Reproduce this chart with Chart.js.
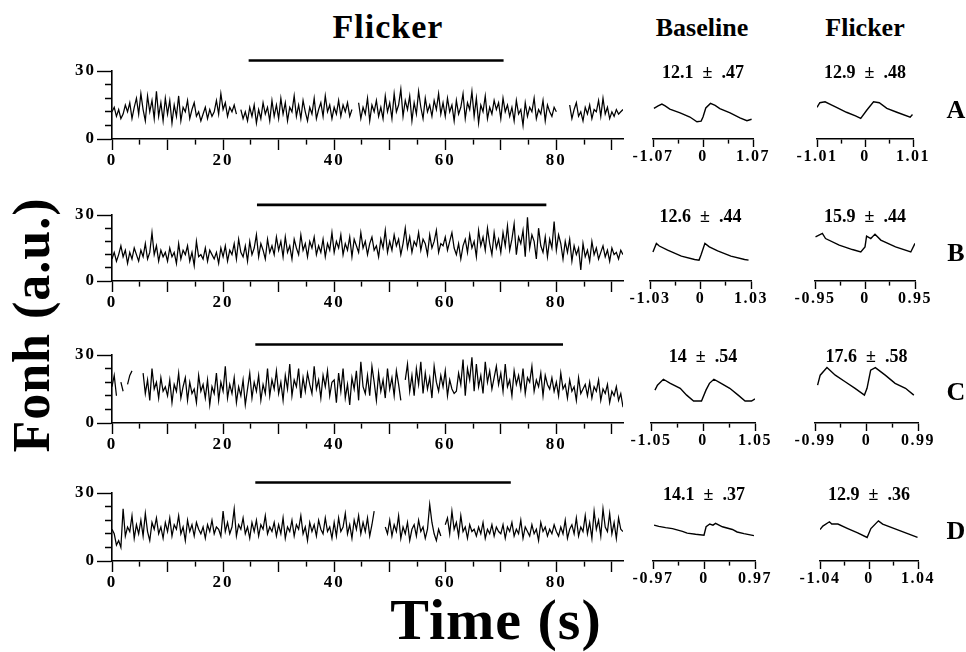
<!DOCTYPE html>
<html>
<head>
<meta charset="utf-8" />
<title>Fonh traces - flicker</title>
<script src="https://cdn.jsdelivr.net/npm/chart.js@4.4.1/dist/chart.umd.min.js"></script>
<style>
    html, body {
        margin: 0;
        padding: 0;
        background: #fff;
        overflow: hidden;
    }
    #fig {
        position: relative;
        width: 966px;
        height: 652px;
        background: #fff;
        color: #000;
        font-family: 'Liberation Serif', 'Times New Roman', serif;
        font-weight: bold;
    }
    #fig canvas { position: absolute; }
    .lbl {
        position: absolute;
        white-space: pre;
        line-height: 1;
        transform: translate(-50%, -50%);
    }
</style>
</head>
<body>
<div id="fig">
    <div class="lbl" style="left:388px; top:27px; font-size:34px; letter-spacing:1px;">Flicker</div>
    <div class="lbl" style="left:702px; top:28px; font-size:26px;">Baseline</div>
    <div class="lbl" style="left:865px; top:28px; font-size:26px;">Flicker</div>
    <div class="lbl" style="left:32px; top:325px; font-size:52px; letter-spacing:1px; transform:translate(-50%,-50%) rotate(-90deg);">Fonh (a.u.)</div>
    <div class="lbl" style="left:496px; top:620px; font-size:58px; letter-spacing:1px;">Time (s)</div>
</div>

<script>
// ---- data ----
const SAMPLE_STEP = 0.4; // s between samples of the long traces

const mainXTicks = [0, 5, 10, 15, 20, 25, 30, 35, 40, 45, 50, 55, 60, 65, 70, 75, 80, 85, 90];
const mainXLabels = [0, 20, 40, 60, 80];
const mainYTicks = [0, 6, 12, 18, 24, 30];
const mainYLabels = [0, 30];

const traceA = [
    12,14,10,13,9,11,15,12,16,9,14,18,11,20,13,8,19,12,17,9,21,10,16,8,18,
    11,17,7,15,10,19,8,14,12,17,9,13,16,10,12,8,11,14,9,13,10,12,17,11,20,
    13,16,10,14,12,15,11,null,13,9,12,8,14,10,15,7,13,9,16,11,14,8,17,10,15,
    9,18,11,16,8,14,12,19,10,15,9,17,12,8,14,11,18,9,13,16,10,19,12,15,9,
    14,11,17,10,15,12,16,10,13,null,null,16,9,14,11,18,8,15,12,17,10,14,9,19,12,
    16,9,20,12,15,22,10,17,13,19,8,16,11,21,14,9,18,12,15,10,17,13,20,11,16,
    10,18,12,15,8,17,11,14,20,9,16,13,21,10,18,7,15,12,19,9,14,11,17,13,16,
    9,18,12,15,10,14,8,17,11,13,6,16,10,14,12,18,9,13,11,17,8,15,12,10,14,
    12,null,null,null,null,null,15,9,13,16,10,12,8,14,11,15,9,13,12,17,10,18,11,14,9,12,10,13,11,12,13
];
const traceB = [
    10,13,9,12,16,11,14,8,13,10,15,12,9,14,11,17,10,13,22,12,16,9,14,11,13,
    9,15,11,13,8,17,10,14,12,16,9,13,7,18,11,12,10,15,9,14,12,10,13,8,15,
    11,16,9,14,12,17,10,19,13,11,16,9,18,12,15,21,11,17,14,10,19,13,16,12,20,
    14,18,11,20,13,16,10,19,15,12,21,14,17,11,18,15,20,12,16,13,19,11,17,14,22,
    13,18,15,21,12,17,14,20,11,19,16,13,22,15,18,12,17,20,14,16,11,19,15,23,13,
    18,14,21,16,19,12,17,24,15,20,13,18,16,22,14,19,17,12,21,15,18,23,13,17,16,
    20,14,18,22,15,12,17,10,16,19,13,21,15,18,11,23,16,20,14,24,17,12,22,15,19,
    13,22,16,25,14,19,26,12,20,17,23,11,29,15,21,18,10,24,16,13,20,11,19,15,27,
    14,21,17,10,18,13,19,9,16,12,15,5,17,11,14,9,18,12,15,10,13,16,11,14,9,15,12,13,10,14,12
];
const traceC = [
    16,21,12,null,18,14,null,17,21,23,null,null,null,null,22,13,19,10,24,15,18,11,20,14,16,
    12,19,9,17,14,22,11,16,20,10,18,13,15,9,21,14,17,11,19,8,16,13,22,10,18,
    14,25,11,17,13,20,9,16,12,19,8,15,22,11,18,14,21,10,17,13,24,12,19,15,23,
    13,18,10,21,15,26,12,19,16,24,11,20,14,22,17,13,25,15,19,11,21,16,23,12,18,
    19,9,22,14,24,11,17,8,20,15,23,10,27,16,13,21,12,25,18,10,22,14,19,11,24,
    15,20,12,23,17,10,null,19,26,14,21,12,24,17,27,13,22,15,20,11,25,18,14,21,16,
    23,12,19,15,13,14,22,17,28,12,24,19,29,14,26,16,21,13,27,18,23,15,20,25,17,
    22,14,26,16,19,12,23,17,21,15,24,13,20,18,25,14,19,16,22,12,21,17,15,20,14,
    18,12,22,15,17,11,19,14,16,10,20,13,15,17,12,18,11,16,14,19,10,15,13,17,9,14,12,16,10,13,7
];
const traceD = [
    14,12,7,9,6,23,11,15,13,20,10,16,12,18,11,21,13,9,17,14,19,12,15,10,17,
    13,19,11,16,14,20,12,15,9,18,13,16,11,17,14,12,15,10,16,13,18,12,15,14,11,
    22,13,17,12,15,23,11,16,14,19,12,15,10,17,13,18,11,16,14,20,12,15,13,17,11,
    16,12,19,10,15,13,18,11,16,14,20,12,15,9,17,13,16,11,18,14,12,19,13,15,10,
    17,11,19,13,15,21,12,16,10,18,14,20,12,17,13,19,11,16,22,null,null,null,null,15,12,
    18,11,16,13,20,10,15,12,17,9,14,16,11,18,13,15,10,14,25,17,12,9,14,11,null,
    16,19,12,22,14,17,11,20,13,15,10,16,13,14,11,15,12,17,10,14,12,16,11,15,13,
    12,16,10,15,13,17,11,14,12,18,10,15,13,11,16,12,14,9,17,13,15,11,14,12,16,
    13,11,15,12,18,10,14,16,12,19,11,15,13,20,12,17,10,22,14,18,11,23,15,13,21,12,17,10,19,14,13
];

// flicker on / off (s)
const flickerOn = [24.6, 26.1, 25.8, 25.8];
const flickerOff = [70.5, 78.2, 81.2, 71.8];

const rowLetters = ['A', 'B', 'C', 'D'];
const baseStats = ['12.1  ±  .47', '12.6  ±  .44', '14  ±  .54', '14.1  ±  .37'];
const flickStats = ['12.9  ±  .48', '15.9  ±  .44', '17.6  ±  .58', '12.9  ±  .36'];
const baseHalf = [1.07, 1.03, 1.05, 0.97];
const flickHalf = [1.01, 0.95, 0.99, 1.04];

// averaged cycles: phase (s) / Fonh
const baseA_t = [-1.05,-0.96,-0.88,-0.81,-0.71,-0.49,-0.28,-0.13,-0.04,0.00,0.06,0.16,0.26,0.36,0.58,0.79,0.94,1.04];
const baseA_v = [13.5,14.6,15.4,14.6,13.2,11.5,9.7,7.6,7.9,9.7,13.7,15.7,14.8,13.4,11.5,9.3,8.1,8.7];
const flickA_t = [-1.01,-0.95,-0.84,-0.72,-0.60,-0.39,-0.20,-0.09,0.04,0.18,0.30,0.46,0.67,0.95,1.00];
const flickA_v = [14.0,16.0,16.4,15.2,14.0,11.8,10.2,9.1,12.8,16.4,16.0,13.5,11.8,9.6,10.8];
const baseB_t = [-0.97,-0.90,-0.84,-0.67,-0.39,-0.12,-0.03,0.01,0.09,0.18,0.35,0.62,0.90,0.98];
const baseB_v = [13.2,17.1,15.9,14.0,11.3,9.8,9.5,11.8,17.1,15.5,13.7,11.3,9.8,9.5];
const flickB_t = [-0.94,-0.81,-0.75,-0.49,-0.24,-0.08,0.00,0.03,0.11,0.19,0.30,0.58,0.87,0.95];
const flickB_v = [20.1,21.6,19.3,16.3,14.3,13.2,15.5,20.4,19.3,21.3,18.6,15.5,13.2,17.1];
const baseC_t = [-0.97,-0.92,-0.80,-0.66,-0.46,-0.33,-0.19,-0.03,0.06,0.13,0.22,0.34,0.54,0.71,0.85,0.98,1.05];
const baseC_v = [14.5,16.7,19.3,17.5,15.3,12.3,9.7,9.7,14.5,17.5,19.3,17.8,15.3,12.3,9.7,9.7,10.6];
const flickC_t = [-0.94,-0.89,-0.76,-0.60,-0.41,-0.22,-0.04,0.01,0.08,0.17,0.36,0.55,0.75,0.91];
const flickC_v = [16.7,21.1,24.5,21.1,18.2,15.3,12.3,15.3,23.3,24.4,21.1,17.5,15.3,12.3];
const baseD_t = [-0.95,-0.86,-0.73,-0.60,-0.41,-0.32,-0.16,0.00,0.04,0.11,0.17,0.22,0.35,0.54,0.63,0.76,0.95];
const baseD_v = [15.8,15.3,14.7,14.3,13.1,12.3,11.8,11.4,15.1,16.3,15.8,16.6,15.1,13.9,12.8,12.1,11.2];
const flickD_t = [-1.04,-0.98,-0.84,-0.79,-0.66,-0.45,-0.24,-0.04,0.04,0.20,0.29,0.54,0.82,1.03];
const flickD_v = [13.9,15.4,17.3,16.3,16.3,14.3,12.4,10.4,14.3,17.7,16.3,14.3,12.1,10.4];

// ---- layout ----
const ROW_Y30 = [71, 215, 355, 493];   // pixel row of Fonh = 30
const ROW_Y0 = [139, 281, 423, 561];   // pixel row of Fonh = 0
const MAIN_X0 = 112, MAIN_X1 = 623;    // time axis ends
const baseArea = [[653, 753], [650, 751], [651, 755], [653, 755]];
const flickArea = [[817, 913], [815, 915], [815, 918], [820, 918]];
const letterY = [110, 253, 392, 531];
const PAD_TOP = 21, X_AXIS_H = 34, Y_AXIS_W = 62, SMALL_PAD = 28;
const BAR_LEVEL = 34.6;
const SERIF = "'Liberation Serif', 'Times New Roman', serif";

Chart.defaults.font.family = SERIF;
Chart.defaults.font.weight = 'bold';
Chart.defaults.font.size = 16;
Chart.defaults.color = '#000';

const fig = document.getElementById('fig');

function makeCanvas(left, top, width, height) {
    const c = document.createElement('canvas');
    c.width = width;
    c.height = height;
    c.style.left = left + 'px';
    c.style.top = top + 'px';
    c.style.width = width + 'px';
    c.style.height = height + 'px';
    fig.appendChild(c);
    return c;
}

function addText(text, x, y, size) {
    const d = document.createElement('div');
    d.className = 'lbl';
    d.textContent = text;
    d.style.left = x + 'px';
    d.style.top = y + 'px';
    d.style.fontSize = size + 'px';
    fig.appendChild(d);
}

function spacing(px) {
    return { id: 'spacing', beforeDraw: c => { c.ctx.letterSpacing = px; } };
}

const tickVal = ctx => (ctx && ctx.tick) ? ctx.tick.value : null;

function mainChart(r, values) {
    const top = ROW_Y30[r] - PAD_TOP;
    const h = PAD_TOP + (ROW_Y0[r] - ROW_Y30[r]) + X_AXIS_H;
    const left = MAIN_X0 - Y_AXIS_W;
    const w = MAIN_X1 - left + 12;
    const canvas = makeCanvas(left, top, w, h);
    const tickFont = { family: SERIF, size: 17, weight: 'bold' };

    new Chart(canvas, {
        type: 'line',
        data: {
            datasets: [
                {
                    data: values.map((v, i) => ({ x: i * SAMPLE_STEP, y: v })),
                    borderColor: '#000',
                    borderWidth: 1.25,
                    pointRadius: 0,
                    tension: 0,
                    spanGaps: false
                },
                {
                    data: [{ x: flickerOn[r], y: BAR_LEVEL }, { x: flickerOff[r], y: BAR_LEVEL }],
                    borderColor: '#000',
                    borderWidth: 2.6,
                    pointRadius: 0,
                    clip: false
                }
            ]
        },
        options: {
            responsive: false,
            animation: false,
            events: [],
            layout: { padding: { top: PAD_TOP, right: 12, left: 0, bottom: 0 } },
            plugins: { legend: { display: false }, tooltip: { enabled: false } },
            scales: {
                x: {
                    type: 'linear',
                    min: 0,
                    max: 92,
                    afterBuildTicks: s => { s.ticks = mainXTicks.map(v => ({ value: v })); },
                    afterFit: s => { s.height = X_AXIS_H; },
                    border: { color: '#000', width: 1.6 },
                    grid: {
                        drawOnChartArea: false,
                        tickLength: 11,
                        tickColor: '#000',
                        tickWidth: 1.4,
                        tickBorderDash: ctx => (tickVal(ctx) % 10 ? [5, 20] : [])
                    },
                    ticks: {
                        autoSkip: false,
                        maxRotation: 0,
                        padding: 0,
                        color: '#000',
                        font: tickFont,
                        callback: v => (mainXLabels.includes(v) ? String(v) : '')
                    }
                },
                y: {
                    min: 0,
                    max: 30,
                    afterBuildTicks: s => { s.ticks = mainYTicks.map(v => ({ value: v })); },
                    afterFit: s => { s.width = Y_AXIS_W; },
                    border: { color: '#000', width: 1.6 },
                    grid: {
                        drawOnChartArea: false,
                        tickLength: 15,
                        tickColor: '#000',
                        tickWidth: 1.4,
                        tickBorderDash: ctx => (mainYLabels.includes(tickVal(ctx)) ? [] : [0, 8, 8, 0])
                    },
                    ticks: {
                        autoSkip: false,
                        padding: 1,
                        color: '#000',
                        font: tickFont,
                        callback: v => (mainYLabels.includes(v) ? String(v) : '')
                    }
                }
            }
        },
        plugins: [spacing('2px')]
    });
}

function cycleChart(r, area, half, tArr, vArr) {
    const top = ROW_Y30[r] - PAD_TOP;
    const h = PAD_TOP + (ROW_Y0[r] - ROW_Y30[r]) + X_AXIS_H;
    const left = area[0] - SMALL_PAD;
    const w = area[1] - area[0] + 2 * SMALL_PAD;
    const canvas = makeCanvas(left, top, w, h);
    const ticks = [-half, -half / 2, 0, half / 2, half];

    new Chart(canvas, {
        type: 'line',
        data: {
            datasets: [{
                data: tArr.map((t, i) => ({ x: t, y: vArr[i] })),
                borderColor: '#000',
                borderWidth: 1.4,
                pointRadius: 0,
                tension: 0
            }]
        },
        options: {
            responsive: false,
            animation: false,
            events: [],
            layout: { padding: { top: PAD_TOP, left: SMALL_PAD, right: SMALL_PAD, bottom: 0 } },
            plugins: { legend: { display: false }, tooltip: { enabled: false } },
            scales: {
                x: {
                    type: 'linear',
                    min: -half,
                    max: half,
                    afterBuildTicks: s => { s.ticks = ticks.map(v => ({ value: v })); },
                    afterFit: s => { s.height = X_AXIS_H; },
                    border: { color: '#000', width: 1.6 },
                    grid: {
                        drawOnChartArea: false,
                        tickLength: 8,
                        tickColor: '#000',
                        tickWidth: 1.4,
                        tickBorderDash: ctx => (ctx.index === 1 || ctx.index === 3 ? [4, 20] : [])
                    },
                    ticks: {
                        autoSkip: false,
                        maxRotation: 0,
                        padding: 0,
                        color: '#000',
                        font: { family: SERIF, size: 16, weight: 'bold' },
                        callback: (v, i) => (i === 0 ? '-' + half.toFixed(2) : i === 2 ? '0' : i === 4 ? half.toFixed(2) : '')
                    }
                },
                y: { display: false, min: 0, max: 30 }
            }
        },
        plugins: [spacing('1.5px')]
    });
}

const traces = [traceA, traceB, traceC, traceD];
const baseCycles = [[baseA_t, baseA_v], [baseB_t, baseB_v], [baseC_t, baseC_v], [baseD_t, baseD_v]];
const flickCycles = [[flickA_t, flickA_v], [flickB_t, flickB_v], [flickC_t, flickC_v], [flickD_t, flickD_v]];

for (let r = 0; r < 4; r++) {
    mainChart(r, traces[r]);
    cycleChart(r, baseArea[r], baseHalf[r], baseCycles[r][0], baseCycles[r][1]);
    cycleChart(r, flickArea[r], flickHalf[r], flickCycles[r][0], flickCycles[r][1]);

    addText(baseStats[r], (baseArea[r][0] + baseArea[r][1]) / 2, ROW_Y30[r] + 1, 18);
    addText(flickStats[r], (flickArea[r][0] + flickArea[r][1]) / 2, ROW_Y30[r] + 1, 18);
    addText(rowLetters[r], 956, letterY[r], 26);
}
</script>
</body>
</html>
